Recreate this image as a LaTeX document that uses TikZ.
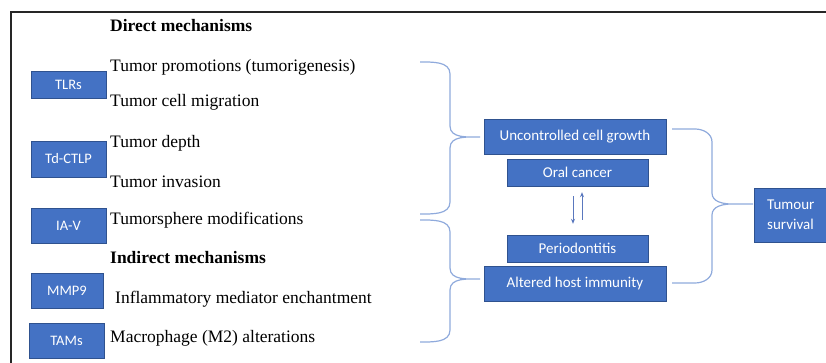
\documentclass[tikz,border=0pt]{standalone}
\usepackage{fontspec}
\setmainfont{Liberation Serif}
\setsansfont{Carlito}
\usetikzlibrary{arrows.meta}
\definecolor{boxblue}{RGB}{68,114,196}
\definecolor{boxedge}{RGB}{47,82,143}
\definecolor{bracecol}{RGB}{143,170,220}
\definecolor{arrowcol}{RGB}{90,120,190}

\begin{document}
\begin{tikzpicture}[x=1pt, y=-1pt,
    lbox/.style={draw=boxedge, fill=boxblue, text=white, inner sep=0pt,
      font=\sffamily\fontsize{14.5}{17}\selectfont},
    rbox/.style={draw=boxedge, fill=boxblue, text=white, inner sep=0pt,
      font=\sffamily\fontsize{15}{20}\selectfont},
    item/.style={anchor=base west, inner sep=0pt, font=\fontsize{17.5}{21}\selectfont},
    head/.style={item, font=\bfseries\fontsize{17.5}{21}\selectfont},
    brace/.style={draw=bracecol, line width=1.2pt},
    updown/.style={draw=arrowcol, line width=0.8pt, -{Stealth[length=5pt, width=4pt]}}]
      \useasboundingbox (0,0) rectangle (826,363);
      \draw[line width=1.6pt, black!85] (11,363) -- (11,12) -- (826,12);
      % left column
      \node[head] (dirh) at (110,32) {Direct mechanisms};
      \node[lbox, minimum width=75, minimum height=27] (tlr) at (68.5,84.5) {TLRs};
      \node[item] (tprom) at (110,72) {Tumor promotions (tumorigenesis)};
      \node[item] (tmig) at (110,107) {Tumor cell migration};
      \node[lbox, minimum width=75, minimum height=36] (tdc) at (68.5,159) {Td-CTLP};
      \node[item] (tdep) at (110,148) {Tumor depth};
      \node[item] (tinv) at (110,188) {Tumor invasion};
      \node[lbox, minimum width=75, minimum height=35] (iav) at (68.5,225.5) {IA-V};
      \node[item] (tsph) at (110,225) {Tumorsphere modifications};
      \node[head] (indh) at (110,263) {Indirect mechanisms};
      \node[lbox, minimum width=72, minimum height=35] (mmp) at (67,290.5) {MMP9};
      \node[item] (infl) at (115,303) {Inflammatory mediator enchantment};
      \node[lbox, minimum width=75, minimum height=35] (tam) at (66.5,340.5) {TAMs};
      \node[item] (macr) at (110,342) {Macrophage (M2) alterations};
      % middle boxes
      \node[rbox, minimum width=182, minimum height=35] (ucg) at (575,136.5) {Uncontrolled cell growth};
      \node[rbox, minimum width=141, minimum height=27] (oc) at (577.5,172.5) {Oral cancer};
      \node[rbox, minimum width=141, minimum height=27] (per) at (577.5,248.5) {Periodontitis};
      \node[rbox, minimum width=182, minimum height=35] (ahi) at (575,283.5) {Altered host immunity};
      \node[rbox, anchor=west, minimum height=54, inner xsep=13, text width=60, align=left] (ts) at (754,215) {Tumour\\survival};
      \draw[updown, shorten <=10, shorten >=11] ([xshift=-4.5]oc.south) -- ([xshift=-4.5]per.north);
      \draw[updown, shorten <=15, shorten >=6] ([xshift=4.5]per.north) -- ([xshift=4.5]oc.south);
      % braces
      \coordinate (dtip) at (480,137);
      \coordinate (itip) at (480,279);
      \coordinate (stip) at (753,204);
      \draw[brace] (420,62) to[out=0,in=90] (450,74) -- (450,126) to[out=-90,in=180] (dtip)
        to[out=180,in=90] (450,148) -- (450,202) to[out=-90,in=0] (420,214);
      \draw[brace] (420,220) to[out=0,in=90] (450,232) -- (450,268) to[out=-90,in=180] (itip)
        to[out=180,in=90] (450,290) -- (450,330) to[out=-90,in=0] (420,342);
      \draw[brace] (672,129) -- (695,129) to[out=0,in=90] (712,142) -- (712,193) to[out=-90,in=180] (732,204) -- (stip)
        (732,204) to[out=180,in=90] (712,215) -- (712,270) to[out=-90,in=0] (695,283) -- (672,283);
\end{tikzpicture}
\end{document}
